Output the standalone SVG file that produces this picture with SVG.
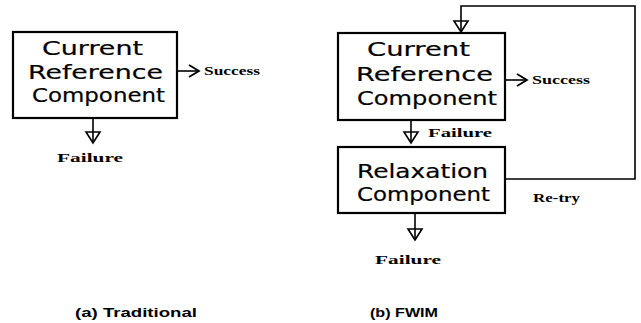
<svg xmlns="http://www.w3.org/2000/svg" width="641" height="323" viewBox="0 0 641 323">
<style>
.box{fill:#fff;stroke:#000;stroke-width:2.2}
.lbl{font-family:"DejaVu Sans",sans-serif;font-size:19px;fill:#000;stroke:#000;stroke-width:0.2}
.edge{fill:none;stroke:#000;stroke-width:1.6}
.bl{font-family:"Liberation Serif",serif;font-weight:bold;font-size:13px;fill:#000}
.cap{font-family:"Liberation Sans",sans-serif;font-weight:bold;font-size:12px;fill:#000}
</style>
<defs>
<marker id="tri" markerUnits="userSpaceOnUse" markerWidth="16" markerHeight="18" refX="12" refY="8" orient="auto" overflow="visible">
<path d="M1,1 L12,8 L1,15 Z" fill="none" stroke="#000" stroke-width="1.6"/>
</marker>
<marker id="chev" markerUnits="userSpaceOnUse" markerWidth="14" markerHeight="14" refX="12" refY="7" orient="auto" overflow="visible">
<path d="M2,1 L12,7 L2,13" fill="none" stroke="#000" stroke-width="1.8"/>
</marker>
</defs>
<rect width="641" height="323" fill="#fff"/>
<g id="connectors">
<path class="edge" d="M177,71 H199" marker-end="url(#chev)"/>
<path class="edge" d="M93,118 V143" marker-end="url(#tri)"/>
<path class="edge" d="M505,80 H527" marker-end="url(#chev)"/>
<path class="edge" d="M411,120 V143" marker-end="url(#tri)"/>
<path class="edge" d="M415,213 V240" marker-end="url(#tri)"/>
<path class="edge" d="M505,179 H635 V6 H461 V32" marker-end="url(#tri)"/>
</g>
<g id="a-current">
<rect class="box" x="13" y="32" width="164" height="86"/>
<text class="lbl" x="42" y="55" textLength="101" lengthAdjust="spacingAndGlyphs">Current</text>
<text class="lbl" x="28" y="79" textLength="135" lengthAdjust="spacingAndGlyphs">Reference</text>
<text class="lbl" x="32" y="102" textLength="133" lengthAdjust="spacingAndGlyphs">Component</text>
</g>
<g id="a-success"><text class="bl" x="204" y="75" textLength="56" lengthAdjust="spacingAndGlyphs">Success</text></g>
<g id="a-failure"><text class="bl" x="57" y="162" textLength="66" lengthAdjust="spacingAndGlyphs">Failure</text></g>
<g id="b-current">
<rect class="box" x="338" y="33" width="167" height="87"/>
<text class="lbl" x="367" y="56" textLength="103" lengthAdjust="spacingAndGlyphs">Current</text>
<text class="lbl" x="356" y="81" textLength="137" lengthAdjust="spacingAndGlyphs">Reference</text>
<text class="lbl" x="357" y="105" textLength="140" lengthAdjust="spacingAndGlyphs">Component</text>
</g>
<g id="b-success"><text class="bl" x="532" y="84" textLength="58" lengthAdjust="spacingAndGlyphs">Success</text></g>
<g id="b-failure1"><text class="bl" x="428" y="137" textLength="64" lengthAdjust="spacingAndGlyphs">Failure</text></g>
<g id="b-relax">
<rect class="box" x="338" y="147" width="167" height="66"/>
<text class="lbl" x="357" y="178" textLength="131" lengthAdjust="spacingAndGlyphs">Relaxation</text>
<text class="lbl" x="357" y="201" textLength="133" lengthAdjust="spacingAndGlyphs">Component</text>
</g>
<g id="b-retry"><text class="bl" x="533" y="202" textLength="47" lengthAdjust="spacingAndGlyphs">Re-try</text></g>
<g id="b-failure2"><text class="bl" x="375" y="264" textLength="66" lengthAdjust="spacingAndGlyphs">Failure</text></g>
<g id="captions">
<text class="cap" x="75" y="317" textLength="122" lengthAdjust="spacingAndGlyphs">(a) Traditional</text>
<text class="cap" x="370" y="317" textLength="68" lengthAdjust="spacingAndGlyphs">(b) FWIM</text>
</g>
</svg>
